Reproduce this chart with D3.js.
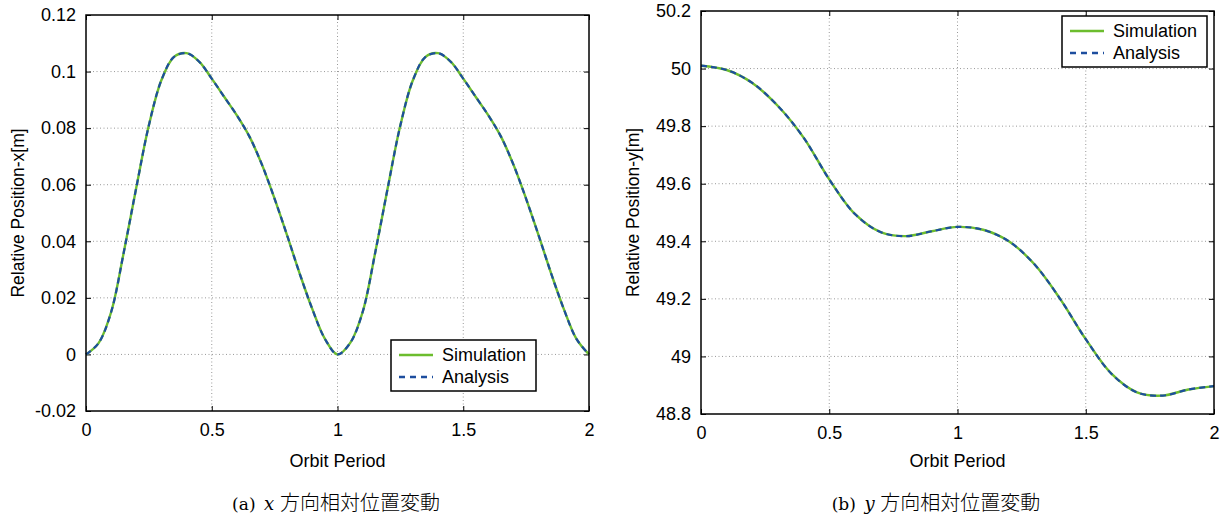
<!DOCTYPE html>
<html>
<head>
<meta charset="utf-8">
<script src="https://cdn.jsdelivr.net/npm/d3@7"></script>
<style>
  body { margin: 0; background: #fff; }
  svg text { font-family: "Liberation Sans", Arial, sans-serif; fill: #000; }
  .grid line { stroke: #999; stroke-width: 1; stroke-dasharray: 1,2.5; }
</style>
</head>
<body>
<svg id="chart" width="1225" height="518"></svg>
<script>
// orbit period samples
const tLeft = [0, 0.05, 0.1, 0.15, 0.2, 0.25, 0.3, 0.35, 0.4, 0.45, 0.5, 0.55, 0.6, 0.65, 0.7, 0.75, 0.8, 0.85, 0.9, 0.95,
  1, 1.05, 1.1, 1.15, 1.2, 1.25, 1.3, 1.35, 1.4, 1.45, 1.5, 1.55, 1.6, 1.65, 1.7, 1.75, 1.8, 1.85, 1.9, 1.95, 2];
// relative position x [m]
const xSimulation = [0, 0.004, 0.015, 0.036, 0.059, 0.081, 0.097, 0.1052, 0.1065, 0.1035, 0.0975, 0.091, 0.0845, 0.077, 0.067, 0.055, 0.042, 0.0285, 0.016, 0.0055,
  0, 0.004, 0.015, 0.036, 0.059, 0.081, 0.097, 0.1052, 0.1065, 0.1035, 0.0975, 0.091, 0.0845, 0.077, 0.067, 0.055, 0.042, 0.0285, 0.016, 0.0055, 0];
const xAnalysis = [0, 0.004, 0.015, 0.036, 0.059, 0.081, 0.097, 0.1052, 0.1065, 0.1035, 0.0975, 0.091, 0.0845, 0.077, 0.067, 0.055, 0.042, 0.0285, 0.016, 0.0055,
  0, 0.004, 0.015, 0.036, 0.059, 0.081, 0.097, 0.1052, 0.1065, 0.1035, 0.0975, 0.091, 0.0845, 0.077, 0.067, 0.055, 0.042, 0.0285, 0.016, 0.0055, 0];

const tRight = [0, 0.1, 0.2, 0.3, 0.4, 0.5, 0.6, 0.7, 0.8, 0.9, 1, 1.1, 1.2, 1.3, 1.4, 1.5, 1.6, 1.7, 1.8, 1.9, 2];
// relative position y [m]
const ySimulation = [50.01, 49.995, 49.95, 49.87, 49.76, 49.615, 49.495, 49.432, 49.418, 49.435, 49.45,
  49.44, 49.4, 49.32, 49.2, 49.06, 48.94, 48.875, 48.864, 48.885, 48.897];
const yAnalysis = [50.01, 49.995, 49.95, 49.87, 49.76, 49.615, 49.495, 49.432, 49.418, 49.435, 49.45,
  49.44, 49.4, 49.32, 49.2, 49.06, 48.94, 48.875, 48.864, 48.885, 48.897];

const periodTicks = [0, 0.5, 1, 1.5, 2];
const xTicks = [-0.02, 0, 0.02, 0.04, 0.06, 0.08, 0.1, 0.12];
const yTicks = [48.8, 49, 49.2, 49.4, 49.6, 49.8, 50, 50.2];
const seriesNames = ["Simulation", "Analysis"];

const green = "#6cbd2e";
const blue = "#1d4e9e";

const svg = d3.select("#chart");

function drawPanel(p) {
  const x = d3.scaleLinear().domain([0, 2]).range([p.left, p.right]);
  const y = d3.scaleLinear().domain(p.domain).range([p.bottom, p.top]);
  const g = svg.append("g");

  // dotted grid on the interior ticks
  const grid = g.append("g").attr("class", "grid");
  grid.selectAll("line.v")
    .data(periodTicks.slice(1, -1))
    .enter().append("line")
    .attr("x1", d => x(d)).attr("x2", d => x(d))
    .attr("y1", p.top).attr("y2", p.bottom);
  grid.selectAll("line.h")
    .data(p.ticks.slice(1, -1))
    .enter().append("line")
    .attr("y1", d => y(d)).attr("y2", d => y(d))
    .attr("x1", p.left).attr("x2", p.right);

  // axes with inward ticks, mirrored on the top and right
  const fmt = d => String(+d.toFixed(2));
  const ax = [
    [d3.axisBottom(x).tickValues(periodTicks).tickFormat(fmt).tickSizeInner(-5).tickSizeOuter(0).tickPadding(12), `translate(0,${p.bottom})`],
    [d3.axisTop(x).tickValues(periodTicks).tickFormat("").tickSizeInner(-5).tickSizeOuter(0), `translate(0,${p.top})`],
    [d3.axisLeft(y).tickValues(p.ticks).tickFormat(fmt).tickSizeInner(-5).tickSizeOuter(0).tickPadding(10), `translate(${p.left},0)`],
    [d3.axisRight(y).tickValues(p.ticks).tickFormat("").tickSizeInner(-5).tickSizeOuter(0), `translate(${p.right},0)`]
  ];
  ax.forEach(([a, tr]) => {
    const s = g.append("g").attr("transform", tr).call(a);
    s.select(".domain").remove();
    s.selectAll("line").attr("stroke", "#000");
    s.selectAll("text").style("font-size", "18px").attr("font-family", null);
  });

  const line = d3.line()
    .x((d, i) => x(p.t[i]))
    .y(d => y(d))
    .curve(d3.curveCatmullRom);

  g.append("path").datum(p.sim)
    .attr("fill", "none").attr("stroke", green).attr("stroke-width", 2.4)
    .attr("d", line);
  g.append("path").datum(p.ana)
    .attr("fill", "none").attr("stroke", blue).attr("stroke-width", 2.2)
    .attr("stroke-dasharray", "6,4")
    .attr("d", line);

  g.append("rect")
    .attr("x", p.left).attr("y", p.top)
    .attr("width", p.right - p.left).attr("height", p.bottom - p.top)
    .attr("fill", "none").attr("stroke", "#000").attr("stroke-width", 1.5);

  // axis labels
  g.append("text")
    .attr("x", (p.left + p.right) / 2).attr("y", 467)
    .attr("text-anchor", "middle").style("font-size", "18px")
    .text("Orbit Period");
  g.append("text")
    .attr("transform", `translate(${p.ylabX},${(p.top + p.bottom) / 2}) rotate(-90)`)
    .attr("text-anchor", "middle").attr("dy", "0.35em").style("font-size", "17.5px")
    .text(p.ylabel);

  // legend
  const lg = g.append("g").attr("transform", `translate(${p.leg[0]},${p.leg[1]})`);
  lg.append("rect")
    .attr("width", 145).attr("height", 51)
    .attr("fill", "#fff").attr("stroke", "#000").attr("stroke-width", 1.5);
  seriesNames.forEach((name, i) => {
    const yy = 15 + i * 22;
    lg.append("line")
      .attr("x1", 8).attr("x2", 42).attr("y1", yy).attr("y2", yy)
      .attr("stroke", i === 0 ? green : blue).attr("stroke-width", 2.4)
      .attr("stroke-dasharray", i === 0 ? null : "6,5");
    lg.append("text")
      .attr("x", 51).attr("y", yy).attr("dy", "0.36em")
      .style("font-size", "18px")
      .text(name);
  });

  // caption
  const cap = g.append("text")
    .attr("x", p.capX).attr("y", 510)
    .attr("text-anchor", "middle");
  cap.append("tspan").style("font-family", "'DejaVu Serif', serif").style("font-size", "17px").text(p.cap[0] + "\u2002");
  cap.append("tspan").style("font-family", "'DejaVu Serif', serif").style("font-style", "italic").style("font-size", "18px").text(p.cap[1] + " ");
  cap.append("tspan").style("font-family", "'Noto Sans CJK JP'").style("font-size", "20px").style("font-weight", 300).text(p.cap[2]);
}

drawPanel({
  left: 86, right: 589, top: 15, bottom: 411,
  domain: [-0.02, 0.12], ticks: xTicks,
  t: tLeft, sim: xSimulation, ana: xAnalysis,
  ylabel: "Relative Position-x[m]", ylabX: 18,
  leg: [391, 340],
  capX: 336, cap: ["(a)", "x", "方向相対位置変動"]
});

drawPanel({
  left: 701, right: 1214, top: 11, bottom: 414,
  domain: [48.8, 50.2], ticks: yTicks,
  t: tRight, sim: ySimulation, ana: yAnalysis,
  ylabel: "Relative Position-y[m]", ylabX: 633,
  leg: [1062, 16],
  capX: 936, cap: ["(b)", "y", "方向相対位置変動"]
});
</script>
</body>
</html>
